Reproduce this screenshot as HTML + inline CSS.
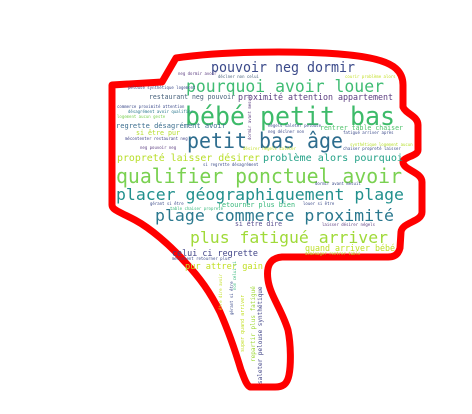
<!DOCTYPE html>
<html><head><meta charset="utf-8"><style>
html,body{margin:0;padding:0;background:#fff;width:472px;height:414px;overflow:hidden}
svg text{font-family:"DejaVu Sans Mono","Liberation Mono",monospace}
</style></head><body>
<svg width="472" height="414" viewBox="0 0 472 414">
<path d="M112,85 L162,82 L176,58 C230,50 330,50 370,58 C395,63 403,72 403,85 L403,107 C406,114 418,116 418,125 L418,150 C418,156 403,157 403,162 C403,170 422,172 422,182 L422,212 C422,222 402,222 401,232 L400,248 C398,256 392,257 388,257 L282,257 C270,258 266,266 268,280 C270,295 282,310 288,330 C291,345 291,365 289,375 C287,385 282,387 275,387 L250,387 C246,385 244,377 241,370 C235,350 228,330 220,312 C210,292 200,278 185,262 C170,245 150,228 135,220 C120,212 112,210 112,205 Z" fill="none" stroke="#ff0000" stroke-width="7" stroke-linejoin="round"/>
<g>
<text x="211" y="72" font-size="14" fill="#3b4a8a" textLength="144" lengthAdjust="spacingAndGlyphs">pouvoir neg dormir</text>
<text x="186" y="92" font-size="17" fill="#3fbc73" textLength="198" lengthAdjust="spacingAndGlyphs">pourquoi avoir louer</text>
<text x="149" y="99" font-size="7" fill="#46607a" textLength="86" lengthAdjust="spacingAndGlyphs">restaurant neg pouvoir</text>
<text x="238" y="100" font-size="9" fill="#5c3d80" textLength="155" lengthAdjust="spacingAndGlyphs">proximité attention appartement</text>
<text x="185" y="125" font-size="26" fill="#3dbb6a" textLength="210" lengthAdjust="spacingAndGlyphs">bébé petit bas</text>
<text x="116" y="128" font-size="7" fill="#3d6f8f" textLength="110" lengthAdjust="spacingAndGlyphs">regrette désagrément avoir</text>
<text x="136" y="135" font-size="7" fill="#b5de2b" textLength="44" lengthAdjust="spacingAndGlyphs">si être pur</text>
<text x="320" y="130" font-size="7" fill="#4fc26b" textLength="83" lengthAdjust="spacingAndGlyphs">rentrer table chaiser</text>
<text x="187" y="148" font-size="21" fill="#2e6d8e" textLength="156" lengthAdjust="spacingAndGlyphs">petit bas âge</text>
<text x="117" y="161" font-size="10" fill="#b8de29" textLength="143" lengthAdjust="spacingAndGlyphs">propreté laisser désirer</text>
<text x="263" y="161" font-size="10" fill="#25a288" textLength="140" lengthAdjust="spacingAndGlyphs">problème alors pourquoi</text>
<text x="116" y="183" font-size="20" fill="#7ad151" textLength="286" lengthAdjust="spacingAndGlyphs">qualifier ponctuel avoir</text>
<text x="116" y="200" font-size="16" fill="#21908d" textLength="288" lengthAdjust="spacingAndGlyphs">placer géographiquement plage</text>
<text x="218" y="207" font-size="7" fill="#35b779" textLength="77" lengthAdjust="spacingAndGlyphs">retourner plus bien</text>
<text x="155" y="221" font-size="16" fill="#2a788e" textLength="239" lengthAdjust="spacingAndGlyphs">plage commerce proximité</text>
<text x="235" y="226" font-size="7" fill="#5a4f8f" textLength="47" lengthAdjust="spacingAndGlyphs">si être dire</text>
<text x="190" y="243" font-size="16" fill="#a0da39" textLength="198" lengthAdjust="spacingAndGlyphs">plus fatigué arriver</text>
<text x="305" y="251" font-size="9" fill="#bddf26" textLength="90" lengthAdjust="spacingAndGlyphs">quand arriver bébé</text>
<text x="172" y="256" font-size="9" fill="#414487" textLength="86" lengthAdjust="spacingAndGlyphs">celui ci regrette</text>
<text x="185" y="269" font-size="9" fill="#c2df23" textLength="78" lengthAdjust="spacingAndGlyphs">pur attrer gain</text>
<text x="178" y="75" font-size="4" fill="#5c3d80">neg dormir avoir</text>
<text x="218" y="78" font-size="4" fill="#46607a">déclner non celui</text>
<text x="345" y="78" font-size="4" fill="#c2df23">courir problème alors</text>
<text x="128" y="89" font-size="4" fill="#3b4a8a">pelouse synthétique logement</text>
<text x="117" y="108" font-size="4" fill="#3b4a8a">commerce proximité attention</text>
<text x="128" y="113" font-size="4" fill="#2a788e">désagrément avoir qualifier</text>
<text x="117" y="118" font-size="4" fill="#7ad151">logement aucun geste</text>
<text x="125" y="140" font-size="4" fill="#414487">mécontenter restaurant neg</text>
<text x="140" y="149" font-size="4" fill="#5c3d80">neg pouvoir neg</text>
<text x="268" y="127" font-size="4" fill="#3b4a8a">négels saleter pelouse</text>
<text x="268" y="133" font-size="4" fill="#3b4a8a">neg déclner non</text>
<text x="343" y="134" font-size="4" fill="#3b4a8a">fatigué arriver après</text>
<text x="350" y="146" font-size="4" fill="#b5de2b">synthétique logement aucun</text>
<text x="343" y="150" font-size="4" fill="#3b4a8a">chaiser propreté laisser</text>
<text x="243" y="150" font-size="4" fill="#c2df23">désirer négels saleter</text>
<text x="203" y="166" font-size="4" fill="#3b4a8a">si regrette désagrément</text>
<text x="315" y="185" font-size="4" fill="#3b4a8a">dormir avant mesuit</text>
<text x="150" y="205" font-size="4" fill="#3b4a8a">gérant si être</text>
<text x="170" y="210" font-size="4" fill="#35b779">table chaiser propreté</text>
<text x="303" y="205" font-size="4" fill="#3b4a8a">louer si être</text>
<text x="322" y="226" font-size="4" fill="#5c3d80">laisser désirer négels</text>
<text x="172" y="260" font-size="4" fill="#3b4a8a">mécontent retourner plus</text>
<text x="305" y="255" font-size="4" fill="#b8de29">déménager rentrer table</text>
<text transform="translate(262,384) rotate(-90)" font-size="6" fill="#414487">saleter pelouse synthétique</text>
<text transform="translate(255,362) rotate(-90)" font-size="6" fill="#a0da39">repartir plus fatigué</text>
<text transform="translate(244,352) rotate(-90)" font-size="5" fill="#c2df23">super quand arriver</text>
<text transform="translate(222,310) rotate(-90)" font-size="4" fill="#c2df23">être dire avoir</text>
<text transform="translate(233,315) rotate(-90)" font-size="4" fill="#3b4a8a">gérant si être</text>
<text transform="translate(236,290) rotate(-90)" font-size="4" fill="#35b779">non celui ci</text>
<text transform="translate(251,140) rotate(-90)" font-size="4" fill="#5c3d80">dormir avant mesuit</text>
</g>
</svg>
</body></html>
